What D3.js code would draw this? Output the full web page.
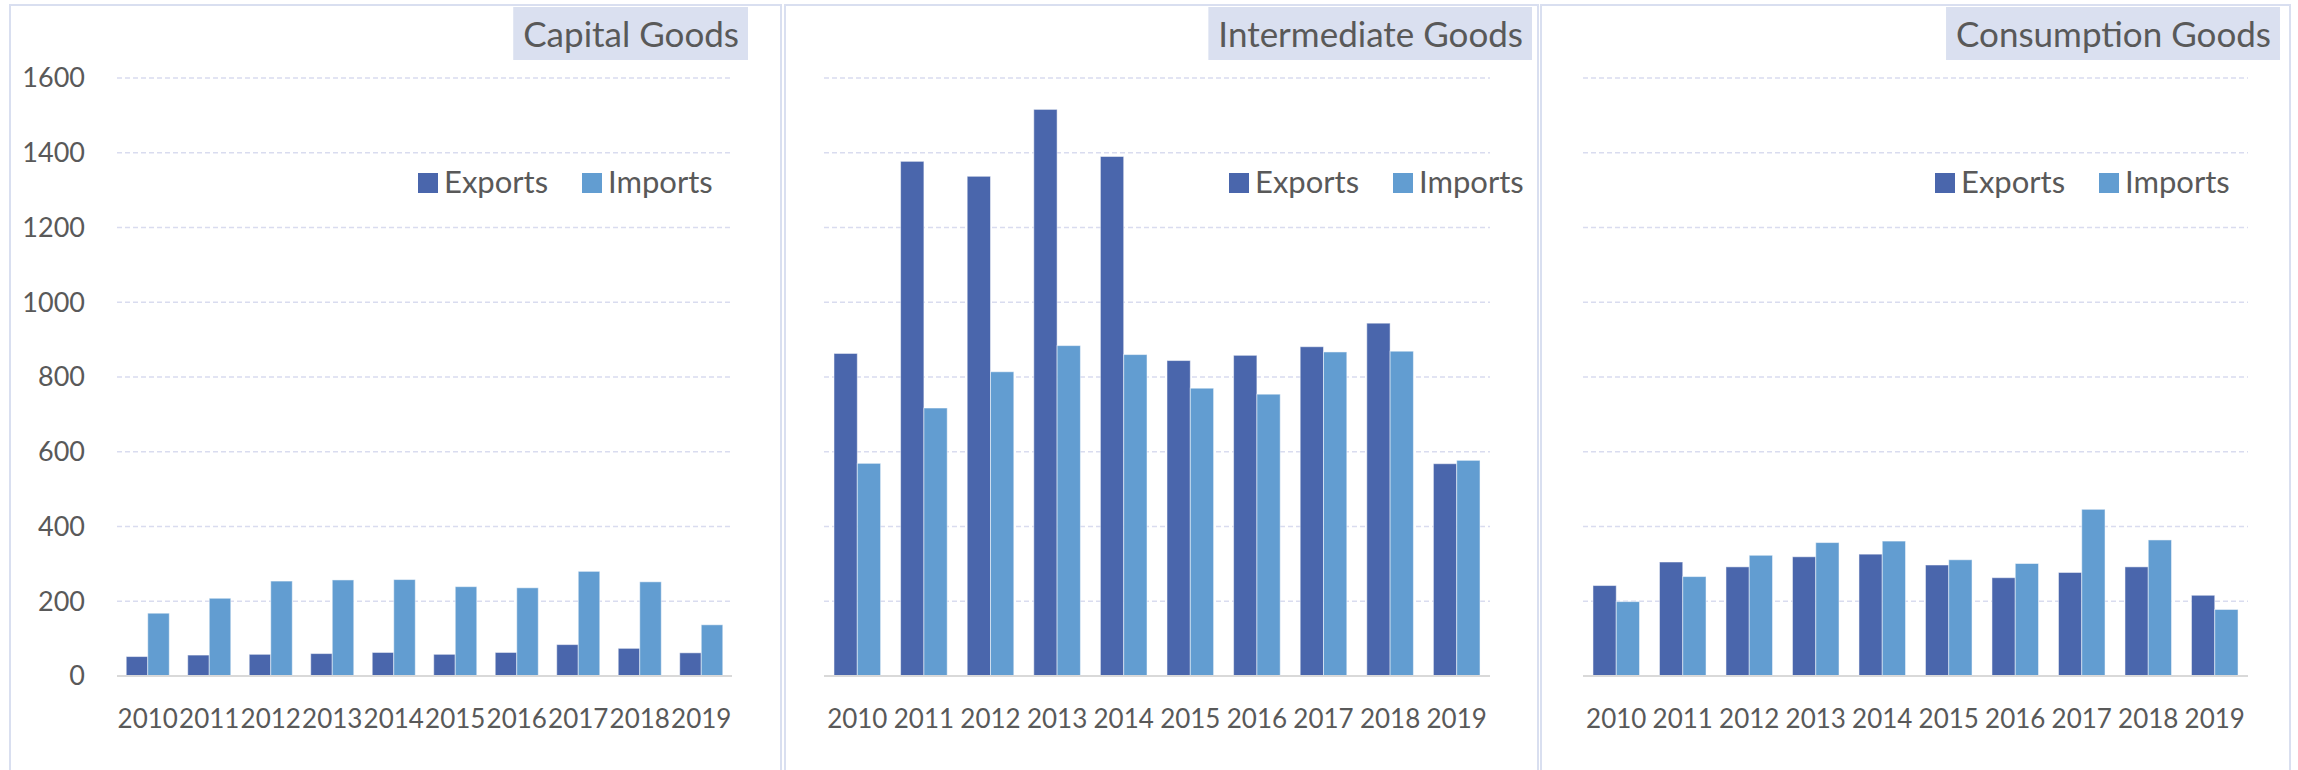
<!DOCTYPE html>
<html>
<head>
<meta charset="utf-8">
<script src="https://cdn.jsdelivr.net/npm/d3@7"></script>
<style>
  body { margin: 0; background: #fff; }
  svg { display: block; font-family: Lato, "Open Sans", sans-serif; }
</style>
</head>
<body>
<script>
// values
var years = ["2010","2011","2012","2013","2014","2015","2016","2017","2018","2019"];
var seriesNames = ["Exports","Imports"];
var panelTitles = ["Capital Goods","Intermediate Goods","Consumption Goods"];
var yTicks = [0,200,400,600,800,1000,1200,1400,1600];

var capitalExports = [52,56,58,60,63,58,63,84,74,62];
var capitalImports = [168,208,254,257,258,239,236,280,252,137];
var intermediateExports = [863,1377,1337,1516,1390,844,858,881,944,568];
var intermediateImports = [569,717,814,884,860,770,754,867,869,577];
var consumptionExports = [242,305,292,319,326,297,263,277,292,216];
var consumptionImports = [199,266,323,357,361,311,301,446,364,178];

var panelValues = [
    [capitalExports, capitalImports],
    [intermediateExports, intermediateImports],
    [consumptionExports, consumptionImports]
];

// layout of the three boxes
var layout = [
    {left: 10,   right: 781,  plotLeft: 117,  plotRight: 732,  titleRight: 748,  legendX: 418,  yLabels: true},
    {left: 785,  right: 1538, plotLeft: 824,  plotRight: 1490, titleRight: 1532, legendX: 1229, yLabels: false},
    {left: 1541, right: 2290, plotLeft: 1583, plotRight: 2248, titleRight: 2280, legendX: 1935, yLabels: false}
];

var colors = ["#4a66ac", "#629dd1"];
var textColor = "#595959";

var svg = d3.select("body")
            .append("svg")
            .attr("width", 2298)
            .attr("height", 770);

var y = d3.scaleLinear()
          .domain([0, 1600])
          .range([676, 78]);

layout.forEach(function(p, i){
    var g = svg.append("g");

    // panel border
    g.append("rect")
     .attr("x", p.left)
     .attr("y", 5)
     .attr("width", p.right - p.left)
     .attr("height", 800)
     .attr("fill", "none")
     .attr("stroke", "#d9dff0")
     .attr("stroke-width", 2);

    // title box, right aligned
    var title = g.append("text")
                 .text(panelTitles[i])
                 .attr("x", p.titleRight - 9)
                 .attr("y", 47)
                 .attr("text-anchor", "end")
                 .style("font-size", "35px")
                 .attr("fill", textColor);
    var tw = title.node().getComputedTextLength();
    g.insert("rect", "text")
     .attr("x", p.titleRight - tw - 19)
     .attr("y", 7)
     .attr("width", tw + 19)
     .attr("height", 53)
     .attr("fill", "#dae0f0");

    var x = d3.scaleBand()
              .domain(years)
              .range([p.plotLeft, p.plotRight])
              .paddingInner(0.3)
              .paddingOuter(0.15);
    var xs = d3.scaleBand()
               .domain(seriesNames)
               .range([0, x.bandwidth()]);

    // dashed grid lines
    g.selectAll(".grid")
     .data(yTicks.slice(1))
     .enter()
     .append("line")
     .attr("x1", p.plotLeft)
     .attr("x2", p.plotRight)
     .attr("y1", function(d){ return y(d); })
     .attr("y2", function(d){ return y(d); })
     .attr("stroke", "#d9dcef")
     .attr("stroke-width", 1.5)
     .attr("stroke-dasharray", "5,3");

    if (p.yLabels) {
        g.selectAll(".ylab")
         .data(yTicks)
         .enter()
         .append("text")
         .text(function(d){ return d; })
         .attr("x", 85)
         .attr("y", function(d){ return y(d); })
         .attr("dy", "0.35em")
         .attr("text-anchor", "end")
         .style("font-size", "27px")
         .attr("fill", textColor);
    }

    // bars
    seriesNames.forEach(function(s, k){
        g.selectAll(".bar" + k)
         .data(panelValues[i][k])
         .enter()
         .append("rect")
         .attr("x", function(d, j){ return x(years[j]) + xs(s); })
         .attr("y", function(d){ return y(d); })
         .attr("width", xs.bandwidth())
         .attr("height", function(d){ return y(0) - y(d); })
         .attr("fill", colors[k])
         .attr("stroke", "#ffffff")
         .attr("stroke-opacity", 0.5)
         .attr("stroke-width", 1);
    });

    // base line
    g.append("line")
     .attr("x1", p.plotLeft)
     .attr("x2", p.plotRight)
     .attr("y1", y(0))
     .attr("y2", y(0))
     .attr("stroke", "#d9d9d9")
     .attr("stroke-width", 2);

    // year labels
    g.selectAll(".xlab")
     .data(years)
     .enter()
     .append("text")
     .text(function(d){ return d; })
     .attr("x", function(d){ return x(d) + x.bandwidth() / 2; })
     .attr("y", 728)
     .attr("text-anchor", "middle")
     .style("font-size", "26px")
     .attr("fill", textColor);

    // legend
    seriesNames.forEach(function(s, k){
        var lx = p.legendX + k * 164;
        g.append("rect")
         .attr("x", lx)
         .attr("y", 173)
         .attr("width", 20)
         .attr("height", 20)
         .attr("fill", colors[k]);
        g.append("text")
         .text(s)
         .attr("x", lx + 26)
         .attr("y", 193)
         .style("font-size", "31px")
         .attr("fill", textColor);
    });
});
</script>
</body>
</html>
